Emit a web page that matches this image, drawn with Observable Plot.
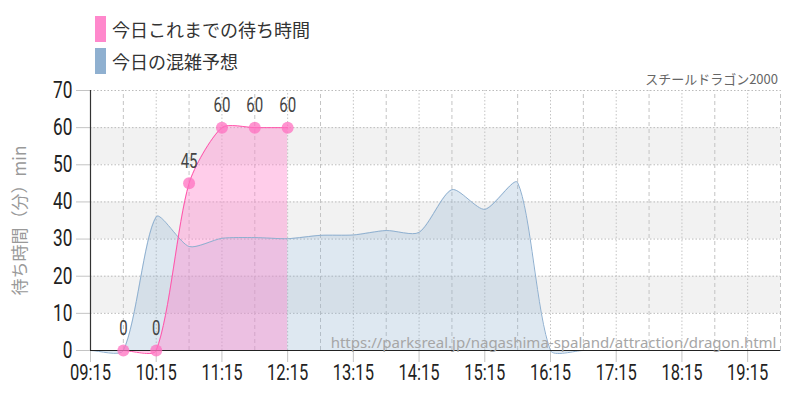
<!DOCTYPE html>
<html>
<head>
<meta charset="utf-8">
<script src="https://cdn.jsdelivr.net/npm/d3@7"></script>
<script src="https://cdn.jsdelivr.net/npm/@observablehq/plot@0.6"></script>
<style>
  body { margin: 0; background: #fff; }
  #wrap { position: relative; width: 800px; height: 400px; overflow: hidden; }
  #legend { position: absolute; left: 95px; top: 13px; font-family: "Noto Sans CJK JP", sans-serif; font-size: 18px; color: #333; }
  .item { display: flex; align-items: center; height: 32px; }
  .sw { width: 11px; height: 26px; margin-right: 6px; }
  #brand { position: absolute; right: 22px; top: 69px; font-family: "Noto Sans CJK JP", sans-serif; font-size: 13px; color: #666; }
</style>
</head>
<body>
<div id="wrap">
  <div id="legend">
    <div class="item"><div class="sw" style="background:#ff88cc"></div>今日これまでの待ち時間</div>
    <div class="item"><div class="sw" style="background:#8fb0d0"></div>今日の混雑予想</div>
  </div>
  <div id="brand">スチールドラゴン2000</div>
</div>
<script>
// Actual waits today
const actualTimes = ["09:45", "10:15", "10:45", "11:15", "11:45", "12:15"];
const actualValues = [0, 0, 45, 60, 60, 60];

// Forecast (congestion prediction)
const forecastTimes = ["09:15","09:45","10:15","10:45","11:15","11:45","12:15","12:45","13:15","13:45","14:15","14:45","15:15","15:45","16:15","16:45","17:15","17:45","18:15","18:45","19:15","19:45"];
const forecastValues = [0, 0, 36, 28, 30.2, 30.4, 30.1, 31, 31.1, 32.3, 31.8, 43.3, 38, 45.2, 0, 0, 0, 0, 0, 0, 0, 0];

const hourTickLabels = ["09:15","10:15","11:15","12:15","13:15","14:15","15:15","16:15","17:15","18:15","19:15"];
const halfHourLines = ["09:45","10:45","11:45","12:45","13:45","14:45","15:45","16:45","17:45","18:45","19:45"];
const yTicks = [0, 10, 20, 30, 40, 50, 60, 70];
const bandLows = [10, 30, 50];
const xStart = "09:15", xEnd = "19:45";

const toMin = s => { const [h, m] = s.split(":").map(Number); return h * 60 + m; };
const fmt = d => String(Math.floor(d / 60)).padStart(2, "0") + ":" + String(d % 60).padStart(2, "0");

const actual = actualTimes.map((t, i) => ({x: toMin(t), y: actualValues[i]}));
const forecast = forecastTimes.map((t, i) => ({x: toMin(t), y: forecastValues[i]}));
const hourTicks = hourTickLabels.map(toMin);
const halfTicks = halfHourLines.map(toMin);

// Chart.js-style cubic spline (pixel-distance weighted tension)
function splineCurve(tension) {
  return function(context) {
    let xs, ys, line;
    return {
      areaStart() { line = 0; },
      areaEnd() { line = NaN; },
      lineStart() { xs = []; ys = []; },
      point(x, y) { xs.push(+x); ys.push(+y); },
      lineEnd() {
        const n = xs.length;
        if (n) {
          if (line) context.lineTo(xs[0], ys[0]); else context.moveTo(xs[0], ys[0]);
          const cp = [];
          for (let i = 0; i < n; i++) {
            const a = i > 0 ? i - 1 : i, b = i < n - 1 ? i + 1 : i;
            const d01 = Math.hypot(xs[i] - xs[a], ys[i] - ys[a]);
            const d12 = Math.hypot(xs[b] - xs[i], ys[b] - ys[i]);
            let s01 = d01 / (d01 + d12), s12 = d12 / (d01 + d12);
            if (!isFinite(s01)) s01 = 0;
            if (!isFinite(s12)) s12 = 0;
            const fa = tension * s01, fb = tension * s12;
            const dx = xs[b] - xs[a], dy = ys[b] - ys[a];
            cp.push({px: xs[i] - fa * dx, py: ys[i] - fa * dy, nx: xs[i] + fb * dx, ny: ys[i] + fb * dy});
          }
          for (let i = 1; i < n; i++) context.bezierCurveTo(cp[i - 1].nx, cp[i - 1].ny, cp[i].px, cp[i].py, xs[i], ys[i]);
        }
        if (line || (line !== 0 && n === 1)) context.closePath();
        line = 1 - line;
      }
    };
  };
}
const curve = splineCurve(0.25);

const numFont = 'Roboto, "Noto Sans", sans-serif';

const chart = Plot.plot({
  width: 800,
  height: 400,
  marginTop: 90,
  marginRight: 20,
  marginBottom: 50,
  marginLeft: 90,
  style: {fontFamily: numFont, background: "transparent", overflow: "visible"},
  x: {type: "linear", domain: [toMin(xStart), toMin(xEnd)]},
  y: {domain: [0, 70]},
  marks: [
    Plot.rect(bandLows, {y1: d => d, y2: d => d + 10, fill: "#f2f2f2"}),
    Plot.ruleY(yTicks.slice(1), {stroke: "#bbb", strokeDasharray: "1.5,2"}),
    Plot.ruleX(hourTicks, {y1: 0, y2: 70, stroke: "#c4c4c4", strokeDasharray: "1.5,2"}),
    Plot.ruleX(halfTicks, {y1: 0, y2: 70, stroke: "#c4c4c4", strokeDasharray: "4,3"}),
    Plot.axisX({ticks: hourTicks, tickFormat: fmt, tickSize: 12, tickPadding: 2, fontSize: 22, fill: "#222", stroke: "#c4c4c4", label: null}),
    Plot.axisY({ticks: yTicks, tickSize: 14, tickPadding: 4, fontSize: 23, fill: "#222", stroke: "#c4c4c4", label: null}),
    Plot.text(["待ち時間（分）min"], {frameAnchor: "left", dx: -70, rotate: -90, textAnchor: "middle", fontSize: 17, fill: "#999", fontFamily: '"Noto Sans CJK JP", sans-serif'}),
    Plot.areaY(forecast, {x: "x", y: "y", curve, fill: "#8fb0d0", fillOpacity: 0.29}),
    Plot.areaY(actual, {x: "x", y: "y", curve, fill: "#ff88cc", fillOpacity: 0.42}),
    Plot.line(forecast, {x: "x", y: "y", curve, stroke: "#8fb0d0", strokeWidth: 1}),
    Plot.line(actual, {x: "x", y: "y", curve, stroke: "#ff55aa", strokeWidth: 1}),
    Plot.ruleX([toMin(xStart)], {y1: 0, y2: 70, stroke: "#333", strokeWidth: 1.2}),
    Plot.ruleY([0], {stroke: "#222", strokeWidth: 1.2}),
    Plot.dot(actual, {x: "x", y: "y", r: 6, fill: "#ff70c0", fillOpacity: 0.75}),
    Plot.text(actual, {x: "x", y: "y", text: d => String(d.y), dy: -22, fontSize: 20, fill: "#444"}),
    Plot.text(["https://parksreal.jp/nagashima-spaland/attraction/dragon.html"], {frameAnchor: "bottom-right", dx: -4, dy: -3, fontSize: 15, fill: "#a6a6a6", fontFamily: '"Noto Sans", sans-serif'})
  ]
});
document.getElementById("wrap").appendChild(chart);
chart.style.position = "absolute";
chart.style.left = "0";
chart.style.top = "0";

// Condense numeric labels horizontally (narrow-font look)
chart.querySelectorAll("text").forEach(t => {
  if (/^[\d:]+$/.test(t.textContent.trim())) {
    const len = t.getComputedTextLength();
    t.setAttribute("textLength", (len * 0.75).toFixed(1));
    t.setAttribute("lengthAdjust", "spacingAndGlyphs");
  }
});
</script>
</body>
</html>
